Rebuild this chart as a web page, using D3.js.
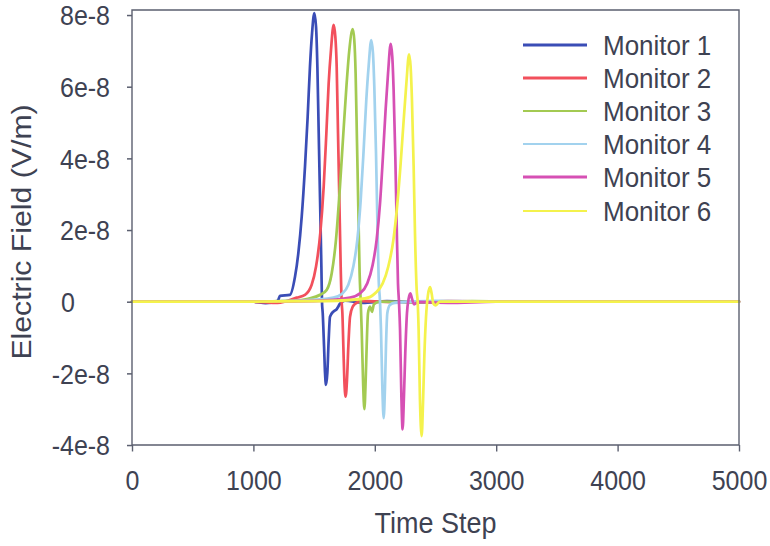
<!DOCTYPE html>
<html><head><meta charset="utf-8">
<script src="https://cdn.jsdelivr.net/npm/d3@7"></script>
<style>html,body{margin:0;padding:0;background:#fff;overflow:hidden}</style>
</head><body><svg id="chart"></svg>
<script>
// ---- data (values in units of 1e-8 V/m) ----
const seriesNames = ["Monitor 1","Monitor 2","Monitor 3","Monitor 4","Monitor 5","Monitor 6"];
const seriesColors = ["#3a4db6","#f2505c","#a3ca52","#a2d2ee","#d650b4","#f4f24c"];
const legendWidths = [3,2.6,2,2,3,2];

const monitor1 = [[0,0],[1000,0],[1100,-0.04],[1200,0.02],[1219,0.16],[1301,0.19],[1343,0.70],[1370,1.35],[1398,2.37],[1425,3.77],[1447,5.16],[1466,6.56],[1483,7.49],[1502,8.05],[1516,7.67],[1527,6.56],[1538,4.70],[1549,2.84],[1560,0.98],[1565,0],[1571,-0.32],[1582,-1.25],[1590,-1.99],[1598,-2.32],[1609,-1.99],[1620,-1.07],[1631,-0.42],[1658,-0.28],[1686,-0.21],[1713,-0.06],[1754,0.03],[1900,-0.03],[2100,0.01],[2400,-0.02],[2800,0],[5000,0]];
const monitor2 = [[0,0],[1000,0],[1200,-0.03],[1356,0.11],[1425,0.19],[1480,0.47],[1516,0.98],[1551,1.91],[1579,3.21],[1601,4.70],[1620,6.09],[1639,7.02],[1661,7.72],[1675,7.39],[1686,6.56],[1697,4.70],[1708,2.84],[1719,0.98],[1727,0],[1733,-0.32],[1741,-1.25],[1749,-2.18],[1760,-2.65],[1771,-2.18],[1782,-1.25],[1796,-0.42],[1818,-0.14],[1851,-0.03],[1892,0.02],[2200,-0.02],[2600,0.01],[3000,0],[5000,0]];
const monitor3 = [[0,0],[1000,0],[1300,0.02],[1450,0.08],[1549,0.19],[1604,0.33],[1645,0.79],[1680,1.72],[1713,3.21],[1741,4.70],[1768,6.09],[1790,7.02],[1818,7.60],[1831,7.30],[1842,6.37],[1853,4.51],[1864,2.65],[1875,0.79],[1884,0],[1892,-0.79],[1903,-2.18],[1914,-3.00],[1925,-2.18],[1933,-1.25],[1944,-0.32],[1960,-0.14],[1977,-0.28],[1993,-0.07],[2043,0],[2400,-0.02],[2800,0.01],[3100,0],[5000,0]];
const monitor4 = [[0,0],[1000,0],[1400,0.03],[1658,0.11],[1727,0.21],[1782,0.47],[1823,0.98],[1856,1.72],[1884,2.84],[1908,4.23],[1930,5.63],[1949,6.56],[1971,7.30],[1985,6.93],[1996,6.00],[2010,4.14],[2021,2.28],[2032,0.61],[2043,0],[2051,-0.79],[2062,-2.37],[2073,-3.25],[2084,-2.37],[2092,-1.25],[2103,-0.32],[2125,-0.09],[2166,-0.03],[2500,0.02],[2900,0],[5000,0]];
const monitor5 = [[0,0],[1000,0],[1500,0.02],[1796,0.11],[1878,0.23],[1938,0.51],[1982,1.02],[2015,1.72],[2043,2.74],[2067,4.05],[2089,5.35],[2109,6.37],[2131,7.19],[2144,6.84],[2155,5.91],[2169,4.05],[2180,2.19],[2191,0.51],[2199,0],[2208,-0.79],[2219,-2.65],[2229,-3.56],[2240,-2.65],[2251,-1.44],[2265,-0.32],[2279,0.09],[2293,0.23],[2306,0.09],[2323,-0.07],[2358,-0.01],[2600,-0.03],[3000,0],[5000,0]];
const monitor6 = [[0,0],[1000,0],[1600,0.02],[1919,0.09],[2002,0.23],[2065,0.51],[2111,0.98],[2153,1.72],[2186,2.74],[2213,3.86],[2238,5.07],[2260,6.09],[2282,6.90],[2295,6.56],[2306,5.63],[2320,3.77],[2331,1.91],[2345,0.33],[2353,0],[2361,-0.79],[2372,-2.74],[2386,-3.75],[2397,-2.84],[2408,-1.53],[2422,-0.42],[2438,0.19],[2455,0.40],[2468,0.23],[2482,-0.05],[2499,-0.10],[2537,0],[5000,0]];
const seriesData = [monitor1,monitor2,monitor3,monitor4,monitor5,monitor6];

const xTicks = [0,1000,2000,3000,4000,5000];
const yTicks = [-4,-2,0,2,4,6,8];
const yTickLabels = ["-4e-8","-2e-8","0","2e-8","4e-8","6e-8","8e-8"];
const xTitle = "Time Step";
const yTitle = "Electric Field (V/m)";

// ---- layout ----
const W = 770, H = 546, K = 1.08; // reference is slightly stretched vertically
const VH = H / K;
const FONT = "'Liberation Sans', Arial, sans-serif";
const TEXT = "#3e4252", AXIS = "#5c6070";
const L = 132, R = 739, T = 10 / K, B = 445 / K, YTOP = 15 / K;

const svg = d3.select("#chart").attr("width", W).attr("height", H)
  .attr("viewBox", `0 0 ${W} ${VH}`).attr("preserveAspectRatio", "none")
  .style("display","block").style("background","#fff");

const x = d3.scaleLinear().domain([0, 5000]).range([L, R]);
const y = d3.scaleLinear().domain([-4, 8]).range([B, YTOP]);

// series
const line = d3.line().x(d => x(d[0])).y(d => y(d[1])).curve(d3.curveMonotoneX);
svg.append("g").selectAll("path").data(seriesData).join("path")
  .attr("d", line).attr("fill", "none")
  .attr("stroke", (d, i) => seriesColors[i]).attr("stroke-width", 2.7)
  .attr("stroke-linejoin", "round").attr("stroke-linecap", "round");

// frame
svg.append("rect").attr("x", L).attr("y", T).attr("width", R - L).attr("height", B - T)
  .attr("fill", "none").attr("stroke", AXIS).attr("stroke-width", 1.4);

// y axis
const yAxis = svg.append("g").attr("transform", `translate(${L},0)`)
  .call(d3.axisLeft(y).tickValues(yTicks).tickFormat((d, i) => yTickLabels[i]).tickSize(5).tickPadding(17));
yAxis.select(".domain").remove();
yAxis.selectAll("line").attr("stroke", AXIS).attr("stroke-width", 1.4);
yAxis.selectAll("text").attr("fill", TEXT).style("font-family", FONT).style("font-size", "25px").attr("dy", "0.36em");
yAxis.selectAll(".tick").filter(d => d === 0).select("text").attr("text-anchor", "start").attr("x", -71);

// x axis
const xAxis = svg.append("g").attr("transform", `translate(0,${B})`)
  .call(d3.axisBottom(x).tickValues(xTicks).tickFormat(d3.format("d")).tickSize(6));
xAxis.select(".domain").remove();
xAxis.selectAll("line").attr("stroke", AXIS).attr("stroke-width", 1.4);
xAxis.selectAll("text").attr("fill", TEXT).style("font-family", FONT).style("font-size", "25px")
  .attr("y", 41.5).attr("dy", 0);

// titles
svg.append("text").attr("x", (L + R) / 2).attr("y", 533 / K).attr("text-anchor", "middle")
  .attr("fill", TEXT).style("font-family", FONT).style("font-size", "27px").text(xTitle);
svg.append("text").attr("transform", `translate(31,${232 / K}) rotate(-90)`).attr("text-anchor", "middle")
  .attr("fill", TEXT).style("font-family", FONT).style("font-size", "28px").text(yTitle);

// legend
const legendRows = [45, 78, 111, 144, 177, 211].map(v => v / K);
const lg = svg.append("g").selectAll("g").data(seriesNames).join("g")
  .attr("transform", (d, i) => `translate(0,${legendRows[i]})`);
lg.append("line").attr("x1", 523).attr("x2", 587).attr("y1", 0).attr("y2", 0)
  .attr("stroke", (d, i) => seriesColors[i]).attr("stroke-width", (d, i) => legendWidths[i]);
lg.append("text").attr("x", 603).attr("y", 0).attr("dy", "0.36em")
  .attr("fill", TEXT).style("font-family", FONT).style("font-size", "26px").text(d => d);
</script></body></html>
